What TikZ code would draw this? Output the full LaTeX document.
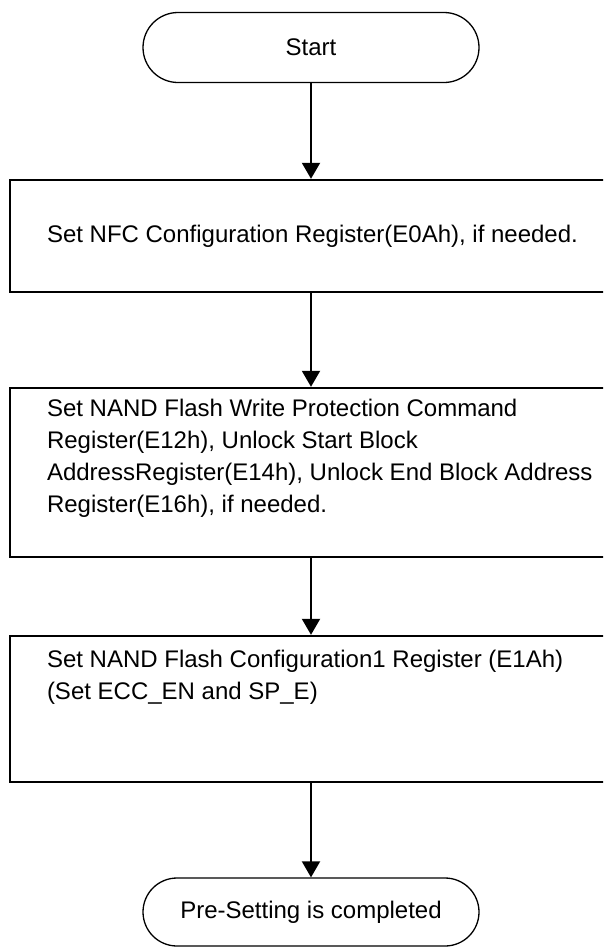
\documentclass[tikz,border=0pt]{standalone}
\usepackage{fontspec}
\setmainfont{Liberation Sans}
\usetikzlibrary{arrows.meta,positioning,shapes.misc}

\tikzset{
    terminal/.style={draw, rounded rectangle, line width=1.3pt, minimum width=336pt, minimum height=70pt, inner sep=0pt},
    stepbox/.style={draw, rectangle, line width=2.4pt, minimum width=650pt, inner sep=0pt},
    steptext/.style={align=left, inner sep=0pt},
    flow/.style={-{Triangle[width=18pt,length=16pt]}, line width=2pt},
}

\begin{document}
\begin{tikzpicture}[x=1pt, y=1pt, font=\fontsize{24}{32}\selectfont]
    % Page frame (boxes run past the right edge)
    \path[use as bounding box, clip] (0,0) rectangle (603,-948);

    % Start terminal
    \node[terminal] (start) at (311,-47.5) {Start};

    % Step boxes
    \node[stepbox, minimum height=112pt] (nfccfg) at (335,-236) {};
    \node[steptext, right=38pt of nfccfg.west] (nfccfgtxt) {Set NFC Configuration Register(E0Ah), if needed.};

    \node[stepbox, minimum height=169pt] (wprot) at (335,-472.5) {};
    \node[steptext, below right=12pt and 38pt of wprot.north west] (wprottxt) {Set NAND Flash Write Protection Command\\
        Register(E12h), Unlock Start Block\\
        AddressRegister(E14h), Unlock End Block Address\\
        Register(E16h), if needed.};

    \node[stepbox, minimum height=146pt] (flashcfg) at (335,-709) {};
    \node[steptext, below right=15pt and 38pt of flashcfg.north west] (flashcfgtxt) {Set NAND Flash Configuration1 Register (E1Ah)\\
        (Set ECC\_EN and SP\_E)};

    % End terminal
    \node[terminal, minimum height=68pt] (done) at (311,-912) {Pre-Setting is completed};

    % Flow arrows
    \draw[flow] (start.south) -- (start.south |- nfccfg.north);
    \draw[flow] (nfccfg.south -| start) -- (wprot.north -| start);
    \draw[flow] (wprot.south -| start) -- (flashcfg.north -| start);
    \draw[flow] (flashcfg.south -| start) -- (done.north);
\end{tikzpicture}
\end{document}
